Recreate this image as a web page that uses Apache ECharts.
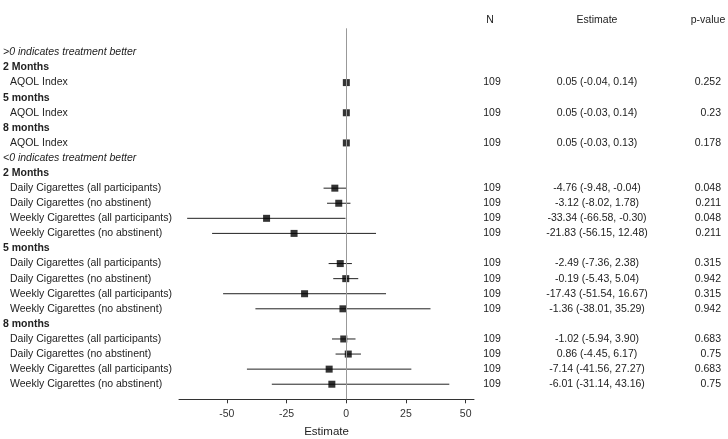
<!DOCTYPE html>
<html>
<head>
<meta charset="utf-8">
<script src="https://cdn.jsdelivr.net/npm/echarts@6/dist/echarts.min.js"></script>
<style>html,body{margin:0;padding:0;background:#fff}#c{width:728px;height:439px}</style>
</head>
<body>
<div id="c"></div>
<script>
// ---- data ----
const rowLabels = [
  ">0 indicates treatment better",
  "2 Months", "AQOL Index",
  "5 months", "AQOL Index",
  "8 months", "AQOL Index",
  "<0 indicates treatment better",
  "2 Months",
  "Daily Cigarettes (all participants)", "Daily Cigarettes (no abstinent)",
  "Weekly Cigarettes (all participants)", "Weekly Cigarettes (no abstinent)",
  "5 months",
  "Daily Cigarettes (all participants)", "Daily Cigarettes (no abstinent)",
  "Weekly Cigarettes (all participants)", "Weekly Cigarettes (no abstinent)",
  "8 months",
  "Daily Cigarettes (all participants)", "Daily Cigarettes (no abstinent)",
  "Weekly Cigarettes (all participants)", "Weekly Cigarettes (no abstinent)"
];
const rowTypes = [
  "note", "head", "item", "head", "item", "head", "item", "note", "head",
  "item", "item", "item", "item", "head",
  "item", "item", "item", "item", "head",
  "item", "item", "item", "item"
];
const estimates = [null, null, 0.05, null, 0.05, null, 0.05, null, null,
  -4.76, -3.12, -33.34, -21.83, null,
  -2.49, -0.19, -17.43, -1.36, null,
  -1.02, 0.86, -7.14, -6.01];
const lowerCI = [null, null, -0.04, null, -0.03, null, -0.03, null, null,
  -9.48, -8.02, -66.58, -56.15, null,
  -7.36, -5.43, -51.54, -38.01, null,
  -5.94, -4.45, -41.56, -31.14];
const upperCI = [null, null, 0.14, null, 0.14, null, 0.13, null, null,
  -0.04, 1.78, -0.30, 12.48, null,
  2.38, 5.04, 16.67, 35.29, null,
  3.90, 6.17, 27.27, 43.16];
const nValues = [null, null, 109, null, 109, null, 109, null, null,
  109, 109, 109, 109, null, 109, 109, 109, 109, null, 109, 109, 109, 109];
const pValues = [null, null, "0.252", null, "0.23", null, "0.178", null, null,
  "0.048", "0.211", "0.048", "0.211", null,
  "0.315", "0.942", "0.315", "0.942", null,
  "0.683", "0.75", "0.683", "0.75"];
const xTicks = [-50, -25, 0, 25, 50];
const columnHeaders = ["N", "Estimate", "p-value"];

// ---- derived ----
const rowIdx = rowLabels.map((_, i) => i);
const pointData = [];
const ciData = [];
estimates.forEach((e, i) => {
  if (e !== null) {
    pointData.push([e, i]);
    ciData.push([lowerCI[i], upperCI[i], i]);
  }
});
const estText = estimates.map((e, i) => e === null ? '' :
  e.toFixed(2) + ' (' + lowerCI[i].toFixed(2) + ', ' + upperCI[i].toFixed(2) + ')');

const FONT = "'Liberation Sans', Arial, sans-serif";
const FS = 10.5;
const TXT = '#222';
const Y_MIN = -1.6, Y_MAX = 23;

function yAxisBase(extra) {
  return Object.assign({
    type: 'value', inverse: true, min: Y_MIN, max: Y_MAX,
    axisLine: { show: false, onZero: false }, axisTick: { show: false }, splitLine: { show: false }
  }, extra);
}

const chart = echarts.init(document.getElementById('c'), null, { renderer: 'canvas' });
chart.setOption({
  animation: false,
  backgroundColor: '#fff',
  textStyle: { fontFamily: FONT },
  grid: { left: 179, right: 254, top: 28.3, bottom: 39.7, containLabel: false, outerBoundsMode: 'none' },
  graphic: [
    { type: 'text', x: 490, y: 20, style: { text: columnHeaders[0], align: 'center', verticalAlign: 'middle', fill: TXT, font: FS + 'px ' + FONT } },
    { type: 'text', x: 597, y: 20, style: { text: columnHeaders[1], align: 'center', verticalAlign: 'middle', fill: TXT, font: FS + 'px ' + FONT } },
    { type: 'text', x: 708, y: 20, style: { text: columnHeaders[2], align: 'center', verticalAlign: 'middle', fill: TXT, font: FS + 'px ' + FONT } }
  ],
  xAxis: {
    type: 'value', min: -70, max: 53.5,
    name: 'Estimate', nameLocation: 'middle', nameGap: 27,
    nameTextStyle: { color: TXT, fontSize: 11.5, fontFamily: FONT },
    axisLine: { show: true, onZero: false, lineStyle: { color: '#333', width: 1 } },
    axisTick: { show: true, length: 4, lineStyle: { color: '#333' }, customValues: xTicks },
    axisLabel: { color: '#333', fontSize: FS, fontFamily: FONT, margin: 9.5, customValues: xTicks },
    splitLine: { show: false }
  },
  yAxis: [
    yAxisBase({
      position: 'left',
      axisLabel: {
        customValues: rowIdx, align: 'left', margin: 176, color: TXT, fontSize: FS, fontFamily: FONT,
        formatter: (v) => {
          const i = Math.round(v);
          const t = rowTypes[i];
          const s = rowLabels[i];
          if (t === 'head') return '{b|' + s + '}';
          if (t === 'note') return '{i|' + s + '}';
          return '{n|' + s + '}';
        },
        rich: {
          b: { fontWeight: 'bold', fontSize: FS, color: TXT, fontFamily: FONT },
          i: { fontStyle: 'italic', fontSize: FS, color: TXT, fontFamily: FONT },
          n: { fontSize: FS, color: TXT, fontFamily: FONT, padding: [0, 0, 0, 7] }
        }
      }
    }),
    yAxisBase({
      position: 'right',
      axisLabel: {
        customValues: rowIdx, align: 'center', margin: 18, color: TXT, fontSize: FS, fontFamily: FONT,
        formatter: (v) => { const x = nValues[Math.round(v)]; return x === null ? '' : String(x); }
      }
    }),
    yAxisBase({
      position: 'right',
      axisLabel: {
        customValues: rowIdx, align: 'center', margin: 123, color: TXT, fontSize: FS, fontFamily: FONT,
        formatter: (v) => estText[Math.round(v)]
      }
    }),
    yAxisBase({
      position: 'right',
      axisLabel: {
        customValues: rowIdx, align: 'right', margin: 247, color: TXT, fontSize: FS, fontFamily: FONT,
        formatter: (v) => { const x = pValues[Math.round(v)]; return x === null ? '' : x; }
      }
    })
  ],
  series: [
    {
      type: 'custom',
      xAxisIndex: 0, yAxisIndex: 0,
      data: ciData,
      encode: { x: [0, 1], y: 2 },
      renderItem: (params, api) => {
        const a = api.coord([api.value(0), api.value(2)]);
        const b = api.coord([api.value(1), api.value(2)]);
        return {
          type: 'line',
          shape: { x1: a[0], y1: a[1], x2: b[0], y2: b[1] },
          style: { stroke: '#222', lineWidth: 1 }
        };
      },
      silent: true,
      z: 2
    },
    {
      type: 'scatter',
      xAxisIndex: 0, yAxisIndex: 0,
      data: pointData,
      symbol: 'rect',
      symbolSize: 7,
      itemStyle: { color: '#000' },
      silent: true,
      z: 3,
      markLine: {
        silent: true,
        symbol: 'none',
        label: { show: false },
        lineStyle: { color: '#999', width: 1, type: 'solid' },
        data: [{ xAxis: 0 }]
      }
    }
  ]
});
</script>
</body>
</html>
